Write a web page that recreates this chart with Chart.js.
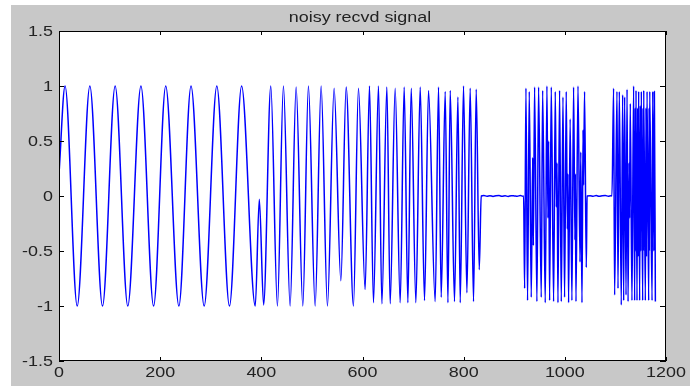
<!DOCTYPE html>
<html>
<head>
<meta charset="utf-8">
<script src="https://cdn.jsdelivr.net/npm/chart.js@4.4.1/dist/chart.umd.min.js"></script>
<style>
  html, body { margin: 0; padding: 0; background: #fff; }
  canvas { display: block; }
</style>
</head>
<body>
<canvas id="signalChart" width="695" height="387"></canvas>
<script>
// tick labels
var xTicks = [0, 200, 400, 600, 800, 1000, 1200];
var xTickLabels = ["0", "200", "400", "600", "800", "1000", "1200"];
var yTicks = [-1.5, -1, -0.5, 0, 0.5, 1, 1.5];
var yTickLabels = ["-1.5", "-1", "-0.5", "0", "0.5", "1", "1.5"];
var chartTitle = "noisy recvd signal";

// signal, read off the picture as peaks / troughs (sample index, amplitude)
// slow tone
var slowX = [0, 12, 36, 61, 86, 111, 136, 162, 187, 211, 237, 261, 287, 312, 337, 361, 388, 396];
var slowY = [0.2, 1, -1, 1, -1, 1, -1, 1, -1, 1, -1, 1, -1, 1, -1, 1, -1, -0.03];

// faster tones
var fastX = [404.5, 418.7, 431.8, 443.7, 456.9, 468.8, 482, 493.1, 506.4, 518.2, 530.7, 543.9,
    557.2, 567.7, 582.1, 592, 605.2, 613.8, 621.7, 631.6, 638.3, 648.2, 654.7, 664.6,
    674.5, 682.4, 689.7, 696.3, 705.5, 714.1, 722.6, 730.5, 743.7, 750.3, 755.6, 763.5,
    768.9, 773.4, 781.9, 788.6, 793.2, 799.7, 806.4, 812.9, 819.5, 824.8, 830.8, 834.7];
var fastY = [-0.99, 1, -1, 1, -1, 0.99, -1, 1, -1, 1, -1, 0.98,
    -0.77, 0.99, -1, 0.98, -0.85, 1, -0.97, 1, -0.98, 0.99, -0.98, 0.98,
    -0.97, 0.99, -0.97, 0.98, -0.97, 0.99, -0.95, 0.96, -0.96, 0.99, -0.92, 0.95,
    -0.97, 0.96, -0.96, 0.9, -0.97, 1, -0.88, 0.98, -0.96, 0.97, -0.67, 0];

// quiet gap 1
var gap1X = [840, 846, 852, 858, 864, 870, 876, 882, 888, 894, 900, 906, 912, 917];
var gap1Y = [0.004, -0.002, 0.003, -0.004, 0.002, 0.004, -0.003, 0.002, -0.004, 0.003, 0.001, -0.002, 0.004, -0.002];

// burst 1
var burst1X = [918.5, 920.5, 923.1, 926.3, 929.7, 933.6, 936.4, 937.8, 940.2, 944.8, 948.1, 953.4,
    956.1, 961.3, 964.6, 966.6, 968, 969.9, 973.2, 977.8, 981.1, 983.2, 984.6, 986.4,
    989.6, 993, 996.3, 999.5, 1002.8, 1005, 1006, 1007.4, 1010.5, 1014, 1017.3, 1020,
    1020.8, 1022, 1026, 1030, 1031.5, 1033.9, 1036, 1037, 1039, 1042.4, 1044];
var burst1Y = [0, -0.84, 0.98, -0.95, 0.95, -0.92, 0.35, -0.45, 0.99, -0.96, 0.99, -0.92,
    0.96, -0.97, 1, -0.2, 0.5, -0.95, 0.99, -0.96, 0.95, -0.1, 0.3, -0.97,
    0.96, -0.96, 0.9, -0.92, 0.95, -0.3, 0.2, -0.97, 0.7, -0.95, 0.99, -0.4,
    0.2, -0.96, 1, -0.6, 0.4, -0.97, 0.6, 0.1, 0.95, -0.65, 0];

// quiet gap 2
var gap2X = [1050, 1056, 1062, 1068, 1074, 1080, 1086, 1091];
var gap2Y = [0.003, -0.002, 0.004, -0.003, 0.002, 0.004, -0.002, 0.002];

// burst 2
var burst2X = [1093.2, 1096.4, 1098.4, 1103.1, 1105.1, 1107.7, 1111.6, 1114.3, 1116.3, 1118.2, 1121, 1123,
    1125, 1127, 1128, 1129.4, 1132.7, 1136, 1138, 1139.3, 1140, 1140.7, 1142.7, 1144,
    1144.8, 1145.9, 1147.9, 1149.2, 1150, 1151.2, 1153.9, 1154.8, 1155.3, 1155.9, 1159.2, 1160.5,
    1161.3, 1162.5, 1165.8, 1166.7, 1167.2, 1167.8, 1172.5, 1173.7, 1176, 1177, 1179];
var burst2Y = [0, 0.98, -0.9, 0.95, -0.84, 0.95, -0.99, 0.92, -0.95, 0.9, -0.9, 0.97,
    -0.96, 0.3, -0.2, 0.84, -0.95, 1, -0.95, 0.8, -0.5, 0.96, -0.95, 0.8,
    -0.55, 0.95, -0.95, 0.82, -0.5, 0.95, -0.95, 0.8, -0.5, 0.96, -0.95, 0.8,
    -0.55, 0.95, -0.95, 0.8, -0.5, 0.95, -0.95, 0.95, -0.5, 0.95, -0.96];

function toPoints(xs, ys) {
    return xs.map(function (x, i) { return { x: x, y: ys[i] }; });
}

var signal = [].concat(
    toPoints(slowX, slowY),
    toPoints(fastX, fastY),
    toPoints(gap1X, gap1Y),
    toPoints(burst1X, burst1Y),
    toPoints(gap2X, gap2Y),
    toPoints(burst2X, burst2Y)
);

var FONT = '14px "Liberation Sans", Arial, sans-serif';
var STRETCH = 1.28;

function wideText(ctx, text, x, y, align) {
    ctx.save();
    ctx.translate(x, y);
    ctx.scale(STRETCH, 1);
    ctx.textAlign = align;
    ctx.textBaseline = "alphabetic";
    ctx.fillText(text, 0, 0);
    ctx.restore();
}

// matlab style figure: grey frame, boxed axes, inward ticks
var matlabFrame = {
    id: "matlabFrame",
    beforeDraw: function (chart) {
        var ctx = chart.ctx, a = chart.chartArea;
        ctx.save();
        ctx.fillStyle = "#ffffff";
        ctx.fillRect(0, 0, chart.width, chart.height);
        ctx.fillStyle = "#c8c8c8";
        ctx.fillRect(11, 5, 679, 381);
        ctx.fillStyle = "#ffffff";
        ctx.fillRect(a.left, a.top, a.right - a.left, a.bottom - a.top);
        ctx.restore();
    },
    afterDraw: function (chart) {
        var ctx = chart.ctx, a = chart.chartArea;
        var xs = chart.scales.x, ys = chart.scales.y;
        ctx.save();
        ctx.strokeStyle = "#000000";
        ctx.lineWidth = 1;
        ctx.beginPath();
        xTicks.forEach(function (v) {
            var px = Math.round(xs.getPixelForValue(v)) + 0.5;
            ctx.moveTo(px, a.bottom);
            ctx.lineTo(px, a.bottom - 4);
            ctx.moveTo(px, a.top);
            ctx.lineTo(px, a.top + 4);
        });
        yTicks.forEach(function (v) {
            var py = Math.round(ys.getPixelForValue(v)) + 0.5;
            ctx.moveTo(a.left, py);
            ctx.lineTo(a.left + 5, py);
            ctx.moveTo(a.right, py);
            ctx.lineTo(a.right - 6, py);
        });
        ctx.stroke();
        ctx.strokeRect(a.left + 0.5, a.top + 0.5, a.right - a.left - 1, a.bottom - a.top - 1);

        ctx.fillStyle = "#222222";
        ctx.font = FONT;
        xTicks.forEach(function (v, i) {
            wideText(ctx, xTickLabels[i], xs.getPixelForValue(v), 377, "center");
        });
        yTicks.forEach(function (v, i) {
            wideText(ctx, yTickLabels[i], 53, ys.getPixelForValue(v) + 5, "right");
        });
        wideText(ctx, chartTitle, 360, 21.5, "center");
        ctx.restore();
    }
};

var ctx = document.getElementById("signalChart").getContext("2d");

var signalChart = new Chart(ctx, {
    type: "line",
    data: {
        datasets: [{
            label: chartTitle,
            data: signal,
            borderColor: "#0000ff",
            borderWidth: 1.5,
            pointRadius: 0,
            fill: false,
            cubicInterpolationMode: "monotone",
        }],
    },
    options: {
        responsive: false,
        animation: false,
        devicePixelRatio: 1,
        layout: {
            padding: { left: 0, right: 29, top: 31, bottom: 0 },
        },
        plugins: {
            legend: { display: false },
            tooltip: { enabled: false },
            title: { display: false },
        },
        scales: {
            x: {
                type: "linear",
                min: 0,
                max: 1200,
                ticks: { display: false },
                grid: { display: false },
                border: { display: false },
                afterBuildTicks: function (s) { s.ticks = xTicks.map(function (v) { return { value: v }; }); },
                afterFit: function (s) { s.height = 26; },
            },
            y: {
                type: "linear",
                min: -1.5,
                max: 1.5,
                ticks: { display: false },
                grid: { display: false },
                border: { display: false },
                afterBuildTicks: function (s) { s.ticks = yTicks.map(function (v) { return { value: v }; }); },
                afterFit: function (s) { s.width = 59; },
            },
        },
    },
    plugins: [matlabFrame],
});
</script>
</body>
</html>
